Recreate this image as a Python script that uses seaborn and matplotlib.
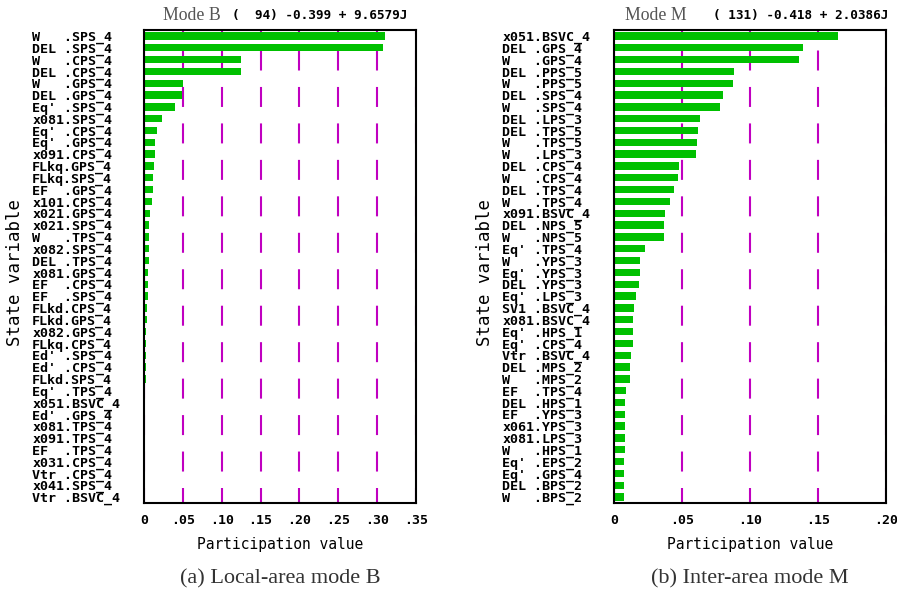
import numpy as np
import pandas as pd
import matplotlib
matplotlib.use("Agg")
import matplotlib.pyplot as plt
import seaborn as sns

MONO = "DejaVu Sans Mono"
SERIF = "Liberation Serif"
BAR_GREEN = "#00c000"
GRID_MAGENTA = "#c000c0"

# Local-area mode B
left_states = ["W", "DEL", "W", "DEL", "W", "DEL", "Eq'", "x081", "Eq'", "Eq'",
               "x091", "FLkq", "FLkq", "EF", "x101", "x021", "x021", "W", "x082", "DEL",
               "x081", "EF", "EF", "FLkd", "FLkd", "x082", "FLkq", "Ed'", "Ed'", "FLkd",
               "Eq'", "x051", "Ed'", "x081", "x091", "EF", "x031", "Vtr", "x041", "Vtr"]
left_devices = ["SPS_4", "SPS_4", "CPS_4", "CPS_4", "GPS_4", "GPS_4", "SPS_4", "SPS_4", "CPS_4", "GPS_4",
                "CPS_4", "GPS_4", "SPS_4", "GPS_4", "CPS_4", "GPS_4", "SPS_4", "TPS_4", "SPS_4", "TPS_4",
                "GPS_4", "CPS_4", "SPS_4", "CPS_4", "GPS_4", "GPS_4", "CPS_4", "SPS_4", "CPS_4", "SPS_4",
                "TPS_4", "BSVC_4", "GPS_4", "TPS_4", "TPS_4", "TPS_4", "CPS_4", "CPS_4", "SPS_4", "BSVC_4"]
left_values = [0.310, 0.308, 0.125, 0.125, 0.050, 0.049, 0.040, 0.023, 0.017, 0.014,
               0.014, 0.0125, 0.011, 0.011, 0.010, 0.0073, 0.006, 0.006, 0.006, 0.006,
               0.0047, 0.0047, 0.0047, 0.0035, 0.0035, 0.002, 0.002, 0.002, 0.002, 0.002,
               0.0, 0.0, 0.0, 0.0, 0.0, 0.0, 0.0, 0.0, 0.0, 0.0]
left_ticks = [0, 0.05, 0.10, 0.15, 0.20, 0.25, 0.30, 0.35]
left_ticklabels = ["0", ".05", ".10", ".15", ".20", ".25", ".30", ".35"]

# Inter-area mode M
right_states = ["x051", "DEL", "W", "DEL", "W", "DEL", "W", "DEL", "DEL", "W",
                "W", "DEL", "W", "DEL", "W", "x091", "DEL", "W", "Eq'", "W",
                "Eq'", "DEL", "Eq'", "SV1", "x081", "Eq'", "Eq'", "Vtr", "DEL", "W",
                "EF", "DEL", "EF", "x061", "x081", "W", "Eq'", "Eq'", "DEL", "W"]
right_devices = ["BSVC_4", "GPS_4", "GPS_4", "PPS_5", "PPS_5", "SPS_4", "SPS_4", "LPS_3", "TPS_5", "TPS_5",
                 "LPS_3", "CPS_4", "CPS_4", "TPS_4", "TPS_4", "BSVC_4", "NPS_5", "NPS_5", "TPS_4", "YPS_3",
                 "YPS_3", "YPS_3", "LPS_3", "BSVC_4", "BSVC_4", "HPS_1", "CPS_4", "BSVC_4", "MPS_2", "MPS_2",
                 "TPS_4", "HPS_1", "YPS_3", "YPS_3", "LPS_3", "HPS_1", "EPS_2", "GPS_4", "BPS_2", "BPS_2"]
right_values = [0.165, 0.139, 0.136, 0.088, 0.0875, 0.080, 0.078, 0.063, 0.062, 0.061,
                0.060, 0.048, 0.047, 0.044, 0.041, 0.0375, 0.037, 0.037, 0.023, 0.019,
                0.019, 0.0184, 0.016, 0.0147, 0.014, 0.014, 0.014, 0.0125, 0.012, 0.012,
                0.0088, 0.008, 0.008, 0.008, 0.008, 0.008, 0.0074, 0.0074, 0.0074, 0.0074]
right_ticks = [0, 0.05, 0.10, 0.15, 0.20]
right_ticklabels = ["0", ".05", ".10", ".15", ".20"]


def make_labels(states, devices):
    return [f"{s:<4}.{d}" for s, d in zip(states, devices)]


W, H = 897, 596
fig = plt.figure(figsize=(W / 100, H / 100), dpi=100)

panels = [
    dict(x0=144, states=left_states, devices=left_devices, values=left_values,
         ticks=left_ticks, ticklabels=left_ticklabels,
         mode="Mode B", mode_x=163, eig="(  94) -0.399 + 9.6579J", eig_x=232,
         caption="(a) Local-area mode B"),
    dict(x0=614, states=right_states, devices=right_devices, values=right_values,
         ticks=right_ticks, ticklabels=right_ticklabels,
         mode="Mode M", mode_x=625, eig="( 131) -0.418 + 2.0386J", eig_x=713,
         caption="(b) Inter-area mode M"),
]

ax_w, ax_top, ax_bot = 272, 30, 503

for p in panels:
    ax = fig.add_axes([p["x0"] / W, 1 - ax_bot / H, ax_w / W, (ax_bot - ax_top) / H])
    labels = make_labels(p["states"], p["devices"])
    df = pd.DataFrame({"label": labels, "value": p["values"]})
    sns.barplot(data=df, x="value", y="label", orient="h", color=BAR_GREEN,
                saturation=1, width=0.62, linewidth=0, ax=ax)

    ax.set_xlim(p["ticks"][0], p["ticks"][-1])
    ax.set_ylim(len(labels) - 0.5, -0.5)
    ax.set_xticks(p["ticks"], labels=p["ticklabels"], fontfamily=MONO, fontsize=9.5,
                  fontweight="bold")
    ax.set_yticks(np.arange(len(labels)), labels=labels, ha="left",
                  fontfamily=MONO, fontsize=9.6, fontweight="bold")
    ax.tick_params(axis="y", length=0, pad=80.5)
    ax.tick_params(axis="x", length=0, pad=8)

    # dashed magenta grid behind the bars
    ax.set_axisbelow(True)
    ax.xaxis.grid(True, color=GRID_MAGENTA, linewidth=1.5, linestyle=(2.4, (9.6, 7.9)))
    ax.yaxis.grid(False)
    for sp in ax.spines.values():
        sp.set_linewidth(1.5)
        sp.set_color("black")

    ax.set_xlabel("Participation value", fontfamily=MONO, fontsize=10.5, labelpad=7)
    ax.set_ylabel("State variable", fontfamily=MONO, fontsize=12.5)
    ax.yaxis.set_label_coords(-0.44, 0.488)

    # title: serif mode name + monospace eigenvalue
    fig.text(p["mode_x"] / W, 1 - 20 / H, p["mode"], fontfamily=SERIF, fontsize=12.8,
             color="#555555", va="baseline", ha="left")
    fig.text(p["eig_x"] / W, 1 - 19.5 / H, p["eig"], fontfamily=MONO, fontsize=9.2,
             fontweight="bold", color="black", va="baseline", ha="left")
    fig.text((p["x0"] + ax_w / 2) / W, 1 - 583 / H, p["caption"], fontfamily=SERIF,
             fontsize=16, color="#333333", va="baseline", ha="center")

fig.savefig("out.png", dpi=100)
